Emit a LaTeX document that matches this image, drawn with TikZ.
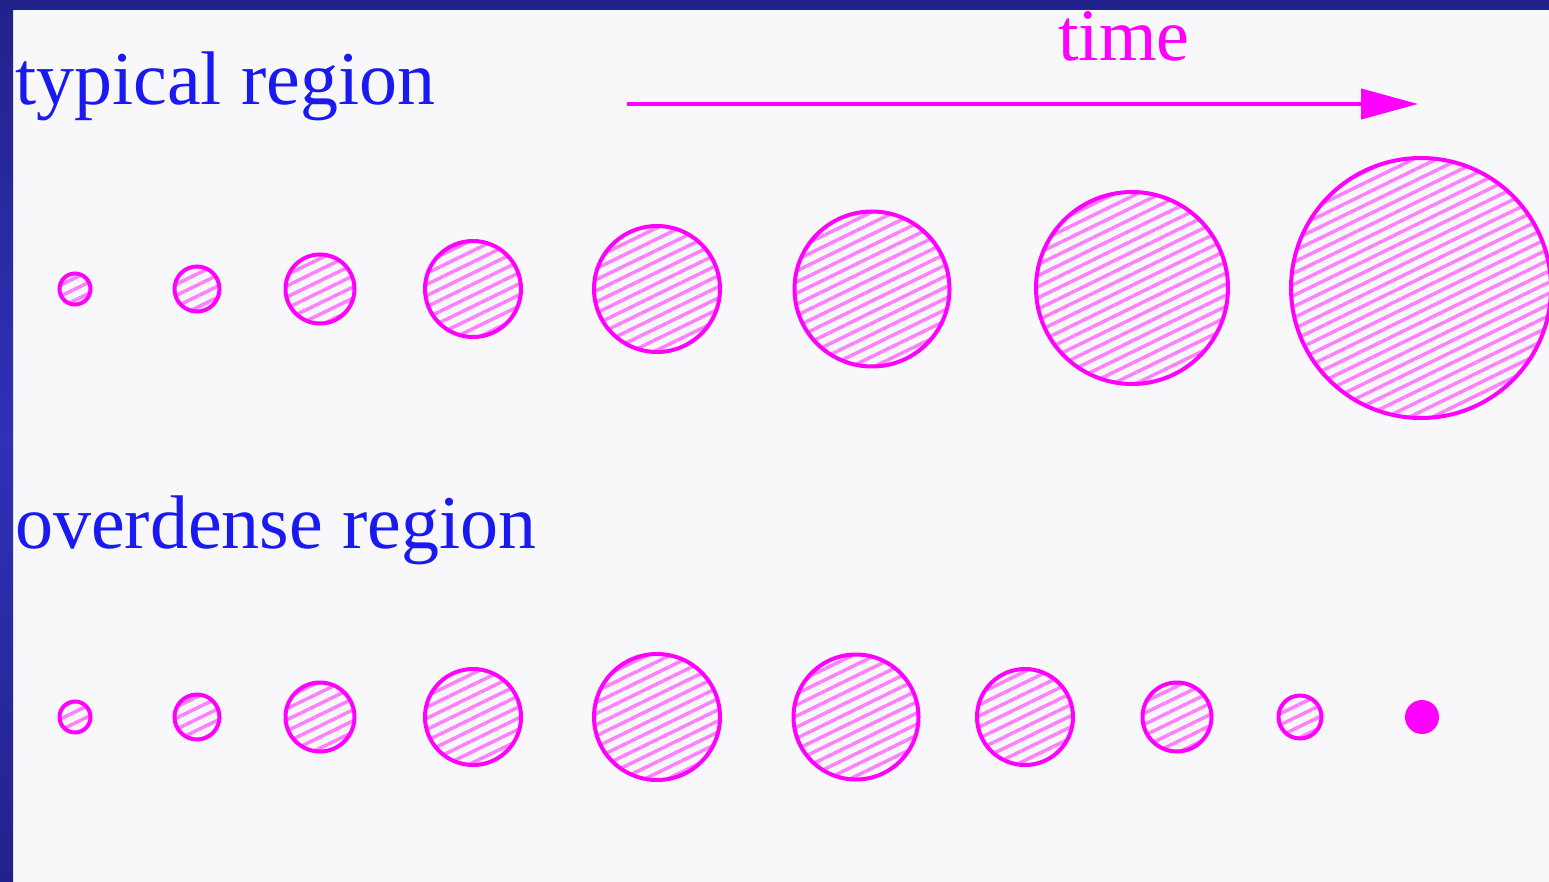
\documentclass[tikz,border=0pt]{standalone}
\usepackage{fontspec}
\setmainfont{Liberation Serif}
\usetikzlibrary{patterns.meta,arrows.meta}
\definecolor{bg}{HTML}{F8F8FA}
\definecolor{navy}{HTML}{22228C}
\definecolor{navylight}{HTML}{3030B8}
\definecolor{mag}{HTML}{FF00FF}
\definecolor{hatch}{HTML}{FF80FF}
\definecolor{txtblue}{HTML}{1A1AF0}
\tikzset{
  bub/.style={circle, draw=mag, line width=4pt, inner sep=0pt, outer sep=0pt,
    minimum size=#1, pattern={Lines[angle=26,distance=10pt,line width=3.5pt]}, pattern color=hatch},
  dotfill/.style={circle, fill=mag, inner sep=0pt, minimum size=#1},
  lbl/.style={anchor=base west, inner sep=0pt, text=txtblue, font=\fontsize{76}{80}\selectfont},
}
\begin{document}
\begin{tikzpicture}[x=1pt,y=-1pt]
\useasboundingbox (0,0) rectangle (1549,882);
\fill[bg] (0,0) rectangle (1549,882);
\shade[top color=navy, bottom color=navy, middle color=navylight] (0,0) rectangle (13,882);
\fill[navy] (0,0) rectangle (1549,10);

\node[lbl] (typ) at (15,105) {typical region};
\node[lbl] (over) at (15,548) {overdense region};
\node[lbl, text=mag, anchor=base, font=\fontsize{74}{80}\selectfont] (time) at (1124,61) {time};

\coordinate (a0) at (627,104);
\coordinate (a1) at (1418,104);
\draw[draw=mag, line width=4pt, -{Triangle[length=57pt,width=30pt]}] (a0) -- (a1);

% typical region
\node[bub=31pt] (t1) at (75,289) {};
\node[bub=45pt] (t2) at (197,289) {};
\node[bub=69pt] (t3) at (320,289) {};
\node[bub=96pt] (t4) at (473,289) {};
\node[bub=126pt] (t5) at (657,289) {};
\node[bub=155pt] (t6) at (872,289) {};
\node[bub=192pt] (t7) at (1132,288) {};
\node[bub=260pt] (t8) at (1421,288) {};

% overdense region
\node[bub=31pt] (o1) at (75,717) {};
\node[bub=45pt] (o2) at (197,717) {};
\node[bub=69pt] (o3) at (320,717) {};
\node[bub=96pt] (o4) at (473,717) {};
\node[bub=126pt] (o5) at (657,717) {};
\node[bub=125pt] (o6) at (856,717) {};
\node[bub=96pt] (o7) at (1025,717) {};
\node[bub=69pt] (o8) at (1177,717) {};
\node[bub=43pt] (o9) at (1300,717) {};
\node[dotfill=34pt] (o10) at (1422,717) {};
\end{tikzpicture}
\end{document}
